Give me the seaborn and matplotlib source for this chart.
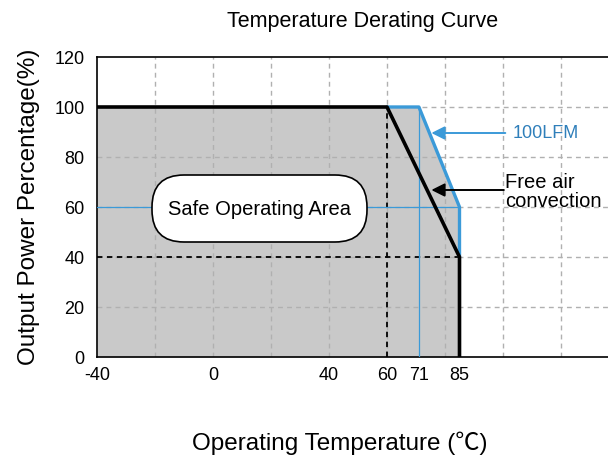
import matplotlib
matplotlib.use("Agg")
import matplotlib.pyplot as plt
from matplotlib.patches import FancyBboxPatch
import numpy as np
import pandas as pd
import seaborn as sns

# ---- data ----
free_air_temp = [-40, 60, 85, 85]
free_air_power = [100, 100, 40, 0]
lfm_temp = [60, 71, 85, 85]
lfm_power = [100, 100, 60, 40]
xtick_values = [-40, 0, 40, 60, 71, 85]
ytick_values = [0, 20, 40, 60, 80, 100, 120]
grid_x = [-20, 0, 20, 40, 60, 80, 100, 120]
grid_y = [20, 40, 60, 80, 100]

title = "Temperature Derating Curve"
xlabel = "Operating Temperature (℃)"
ylabel = "Output Power Percentage(%)"

sns.set_theme(style="white")
plt.rcParams["font.family"] = ["Liberation Sans", "Noto Sans CJK SC", "DejaVu Sans"]

BLUE = "#3b9ad8"
GREY_FILL = "#c9c9c9"

fig = plt.figure(figsize=(6.08, 4.59), dpi=100)
ax = fig.add_axes([97 / 608, 102 / 459, 511 / 608, 300 / 459])

x_min, x_max = -40, -40 + 511 / 2.9
ax.set_xlim(x_min, x_max)
ax.set_ylim(0, 120)

# fill under the 100LFM envelope
env_x = [free_air_temp[0]] + lfm_temp[1:3]
env_y = [free_air_power[0]] + lfm_power[1:3]
ax.fill_between(env_x, env_y, 0, color=GREY_FILL, lw=0, zorder=1)

# grid
for gx in grid_x:
    ax.axvline(gx, color="#b0b0b0", lw=1, ls=(0, (3.5, 3)), zorder=2)
for gy in grid_y:
    ax.axhline(gy, color="#b0b0b0", lw=1, ls=(0, (3.5, 3)), zorder=2)

# reference lines
ax.plot([x_min, free_air_temp[2]], [free_air_power[2]] * 2, color="black", lw=1.3,
        ls=(0, (3, 2.5)), zorder=3)
ax.plot([free_air_temp[1]] * 2, [0, free_air_power[1]], color="black", lw=1.3,
        ls=(0, (3, 2.5)), zorder=3)
ax.plot([x_min, lfm_temp[2]], [lfm_power[2]] * 2, color=BLUE, lw=0.9, zorder=3)
ax.plot([lfm_temp[1]] * 2, [0, lfm_power[1]], color=BLUE, lw=0.9, zorder=3)

# curves
df_lfm = pd.DataFrame({"t": lfm_temp, "p": lfm_power})
df_free = pd.DataFrame({"t": free_air_temp, "p": free_air_power})
sns.lineplot(data=df_lfm, x="t", y="p", sort=False, estimator=None, color=BLUE,
             lw=2.4, ax=ax, zorder=4)
sns.lineplot(data=df_free, x="t", y="p", sort=False, estimator=None, color="black",
             lw=2.6, ax=ax, zorder=5)

# bubble
bubble = FancyBboxPatch((1.52, 2.17), 2.15, 0.67,
                        boxstyle="round,pad=0,rounding_size=0.32",
                        transform=fig.dpi_scale_trans, fc="white", ec="black",
                        lw=1.2, zorder=6)
ax.add_patch(bubble)
ax.text(16.2, 59.0, "Safe Operating Area", ha="center", va="center", fontsize=14.5,
        color="black", zorder=7)

# annotations
ax.annotate("", xy=(75.3, 89.6), xytext=(100.8, 89.6),
            arrowprops=dict(arrowstyle="-|>", color=BLUE, lw=1.4, mutation_scale=20,
                            shrinkA=0, shrinkB=0), zorder=8)
ax.text(103.3, 89.6, "100LFM", color="#2f7fba", fontsize=13, ha="left", va="center",
        zorder=8)
ax.annotate("", xy=(75.3, 66.8), xytext=(100.3, 66.8),
            arrowprops=dict(arrowstyle="-|>", color="black", lw=1.4, mutation_scale=20,
                            shrinkA=0, shrinkB=0), zorder=8)
ax.text(100.7, 66.0, "Free air\nconvection", color="black", fontsize=14.5, ha="left",
        va="center", linespacing=0.95, zorder=8)

# axes styling
ax.set_xticks(xtick_values)
ax.set_xticklabels([str(v) for v in xtick_values])
ax.set_yticks(ytick_values)
ax.set_yticklabels([str(v) for v in ytick_values])
ax.tick_params(axis="both", length=0, labelsize=13, colors="black")
ax.tick_params(axis="y", pad=9)
ax.tick_params(axis="x", pad=7)
ax.grid(False)
for side in ["left", "bottom", "top"]:
    ax.spines[side].set_visible(True)
    ax.spines[side].set_color("black")
    ax.spines[side].set_linewidth(1.2)
ax.spines["right"].set_visible(False)

ax.set_xlabel(xlabel, fontsize=17.5, color="black", va="center")
ax.xaxis.set_label_coords((340 - 97) / 511, (357 - 443) / 300)
ax.set_ylabel(ylabel, fontsize=17.5, labelpad=10, color="black")
fig.text((228 + 497) / 2 / 608, 1 - 22 / 459, title, ha="center", va="center",
         fontsize=15.5, color="black")

fig.savefig("out.png", dpi=100)
